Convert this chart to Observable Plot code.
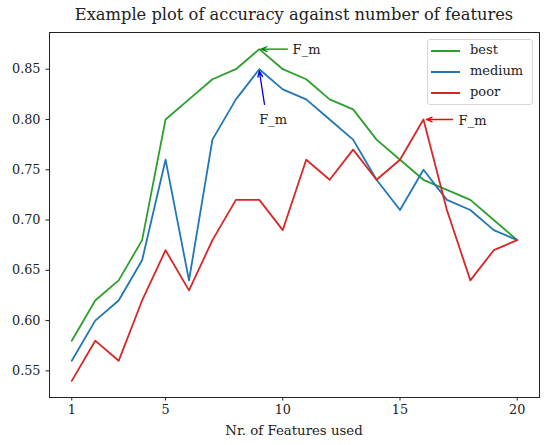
<!DOCTYPE html>
<html>
<head>
<meta charset="utf-8">
<script src="https://cdn.jsdelivr.net/npm/d3@7"></script>
<script src="https://cdn.jsdelivr.net/npm/@observablehq/plot@0.6"></script>
<style>
  body { margin: 0; background: #fff; font-family: "DejaVu Serif", serif; }
  #wrap { position: relative; width: 550px; height: 445px; }
  #title { height: 28px; width: 550px; text-align: center; font-size: 16.3px; line-height: 16px; padding-top: 7px; box-sizing: border-box; padding-left: 38px; color: #222; white-space: nowrap; }
  #xlabel { position: absolute; left: 0; top: 424px; width: 550px; text-align: center; font-size: 13.3px; line-height: 14px; padding-left: 38px; box-sizing: border-box; color: #222; white-space: nowrap; }
  #legend { position: absolute; left: 427px; top: 39px; width: 106px; height: 66px; border: 1px solid #d6d6d6; border-radius: 3px; background: rgba(255,255,255,0.8); box-sizing: border-box; font-size: 13px; color: #222; }
  .row { position: absolute; left: 0; height: 20px; width: 100%; }
  .row .ln { position: absolute; left: 3px; top: 9px; width: 29px; height: 2px; }
  .row .lb { position: absolute; left: 42px; top: 1px; }
</style>
</head>
<body>
<div id="wrap">
  <div id="title">Example plot of accuracy against number of features</div>
  <div id="chart"></div>
  <div id="xlabel">Nr. of Features used</div>
  <div id="legend"></div>
</div>
<script>
const features = [1, 2, 3, 4, 5, 6, 7, 8, 9, 10, 11, 12, 13, 14, 15, 16, 17, 18, 19, 20];
const best   = [0.58, 0.62, 0.64, 0.68, 0.80, 0.82, 0.84, 0.85, 0.87, 0.85, 0.84, 0.82, 0.81, 0.78, 0.76, 0.74, 0.73, 0.72, 0.70, 0.68];
const medium = [0.56, 0.60, 0.62, 0.66, 0.76, 0.64, 0.78, 0.82, 0.85, 0.83, 0.82, 0.80, 0.78, 0.74, 0.71, 0.75, 0.72, 0.71, 0.69, 0.68];
const poor   = [0.54, 0.58, 0.56, 0.62, 0.67, 0.63, 0.68, 0.72, 0.72, 0.69, 0.76, 0.74, 0.77, 0.74, 0.76, 0.80, 0.71, 0.64, 0.67, 0.68];
const seriesNames = ["best", "medium", "poor"];
const seriesColors = ["#2ca02c", "#1f77b4", "#d62728"];
const xTicks = [1, 5, 10, 15, 20];
const yTicks = [0.55, 0.60, 0.65, 0.70, 0.75, 0.80, 0.85];

// annotations: arrow head point, arrow tail, text position
const annX  = [9.08, 9.0, 16.13];
const annY  = [0.87, 0.848, 0.80];
const tailX = [10.2, 9.22, 17.24];
const tailY = [0.87, 0.815, 0.80];
const textX = [10.42, 9.0, 17.5];
const textY = [0.869, 0.80, 0.799];
const annColors = ["#008000", "#0000ff", "#ff0000"];
const annText = ["F_m", "F_m", "F_m"];

const seriesValues = [best, medium, poor];
const rows = [];
seriesNames.forEach((s, i) => features.forEach((f, j) => rows.push({series: s, x: f, y: seriesValues[i][j]})));
const anns = annX.map((v, i) => ({x2: v, y2: annY[i], x1: tailX[i], y1: tailY[i], tx: textX[i], ty: textY[i], c: annColors[i], t: annText[i]}));

const plot = Plot.plot({
  width: 550,
  height: 417,
  marginLeft: 49,
  marginRight: 11,
  marginTop: 4,
  marginBottom: 48,
  style: {fontFamily: "DejaVu Serif", fontSize: "13px", background: "#fff", color: "#222"},
  x: {domain: [0.05, 20.95]},
  y: {domain: [0.5235, 0.8865]},
  color: {domain: seriesNames, range: seriesColors},
  marks: [
    Plot.axisX({ticks: xTicks, tickSize: 3.5, tickPadding: 4, tickFormat: d => String(d), label: null, fontSize: 12.8}),
    Plot.axisY({ticks: yTicks, tickSize: 3.5, tickPadding: 5.5, tickFormat: d3.format(".2f"), label: null, fontSize: 12.8}),
    Plot.line(rows, {x: "x", y: "y", z: "series", stroke: "series", strokeWidth: 1.8}),
    Plot.arrow(anns, {x1: "x1", y1: "y1", x2: "x2", y2: "y2", stroke: "c", strokeWidth: 1.3, headLength: 7, headAngle: 45}),
    Plot.text(anns, {x: "tx", y: "ty", text: "t", textAnchor: "start", fill: "#222", fontSize: 13}),
    Plot.frame({stroke: "#222", strokeWidth: 1})
  ]
});
document.getElementById("chart").appendChild(plot);

const leg = document.getElementById("legend");
seriesNames.forEach((s, i) => {
  const r = document.createElement("div");
  r.className = "row";
  r.style.top = (1 + i * 21) + "px";
  r.innerHTML = `<div class="ln" style="background:${seriesColors[i]}"></div><div class="lb">${s}</div>`;
  leg.appendChild(r);
});
</script>
</body>
</html>
